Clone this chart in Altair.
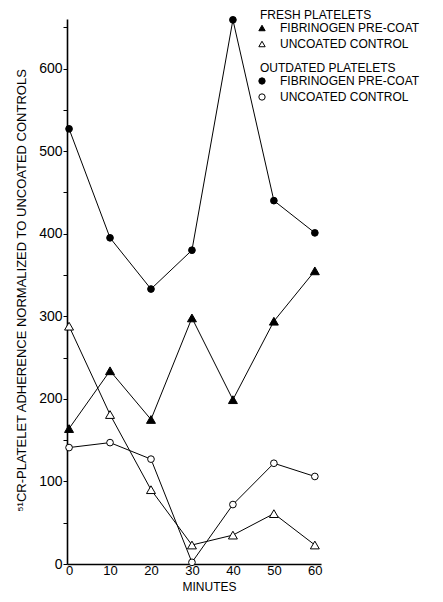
import altair as alt
import pandas as pd

minutes = [0, 10, 20, 30, 40, 50, 60]
fresh_fibrinogen = [164, 234, 175, 298, 199, 294, 355]
fresh_uncoated = [288, 181, 90, 23, 35, 61, 23]
outdated_fibrinogen = [527, 395, 333, 380, 659, 440, 401]
outdated_uncoated = [141, 147, 127, 2, 72, 122, 106]

coats = ["FIBRINOGEN PRE-COAT", "UNCOATED CONTROL"]
groups = ["FRESH PLATELETS", "OUTDATED PLATELETS"]

rows = []
for grp, coat, vals in [
    (groups[0], coats[0], fresh_fibrinogen),
    (groups[0], coats[1], fresh_uncoated),
    (groups[1], coats[0], outdated_fibrinogen),
    (groups[1], coats[1], outdated_uncoated),
]:
    for m, v in zip(minutes, vals):
        rows.append({"minute": m, "value": v, "group": grp, "coat": coat,
                     "series": grp + " " + coat})
df = pd.DataFrame(rows)

FONT = "Liberation Sans"

x = alt.X("minute:Q", title="MINUTES",
          scale=alt.Scale(domain=[-0.5, 61.5], nice=False, zero=False),
          axis=alt.Axis(values=[0, 10, 20, 30, 40, 50, 60], ticks=False, grid=False,
                        labelPadding=0, titleX=142, titleY=29, titleAlign="center",
                        titleBaseline="bottom", titleFontSize=12,
                        domainWidth=1.6, domainColor="black"))
y = alt.Y("value:Q",
          title="⁵¹CR-PLATELET ADHERENCE NORMALIZED TO UNCOATED CONTROLS",
          scale=alt.Scale(domain=[0, 660], nice=False),
          axis=alt.Axis(values=list(range(0, 651, 50)), grid=False,
                        labelExpr="datum.value % 100 == 0 ? datum.label : ''",
                        labelFontSize=14,
                        tickSize=4, labelPadding=1, titlePadding=10,
                        titleY=271, titleAlign="center",
                        domainWidth=1.6, domainColor="black"))

base = alt.Chart(df)

lines = base.mark_line(color="black", strokeWidth=1).encode(
    x=x, y=y, detail="series:N")


def point_layer(group, shape_name, size, legend_y):
    leg = alt.Legend(orient="none", legendX=193, legendY=legend_y)
    return base.transform_filter(alt.datum.group == group).mark_point(
        filled=True, strokeWidth=1, opacity=1, size=size).encode(
        x=x, y=y,
        shape=alt.Shape("coat:N", title=group,
                        scale=alt.Scale(domain=coats, range=[shape_name, shape_name]),
                        legend=leg),
        fill=alt.Fill("coat:N", title=group,
                      scale=alt.Scale(domain=coats, range=["black", "white"]),
                      legend=leg),
        stroke=alt.Stroke("coat:N", title=group,
                          scale=alt.Scale(domain=coats, range=["black", "black"]),
                          legend=leg),
    )


fresh = point_layer(groups[0], "triangle-up", 80, -9)
outdated = point_layer(groups[1], "circle", 45, 44)

chart = alt.layer(lines, fresh, outdated).resolve_scale(
    shape="independent", fill="independent", stroke="independent"
).properties(
    width=254, height=545,
    autosize=alt.AutoSizeParams(type="none"),
    padding={"left": 59, "top": 11, "right": 114, "bottom": 30},
).configure_view(stroke=None).configure_axis(
    labelFont=FONT, titleFont=FONT, labelFontSize=13, titleFontSize=13,
    titleFontWeight="normal", labelColor="black", titleColor="black",
    tickColor="black",
).configure_legend(
    titleFont=FONT, labelFont=FONT, titleFontSize=12, labelFontSize=12,
    titleFontWeight="normal", titleColor="black", labelColor="black",
    symbolSize=40, symbolStrokeWidth=1,
    symbolOffset=-4, labelOffset=12, rowPadding=4, titlePadding=0, padding=0,
)

chart.save("out.html", embed_options={"renderer": "svg", "actions": False})
